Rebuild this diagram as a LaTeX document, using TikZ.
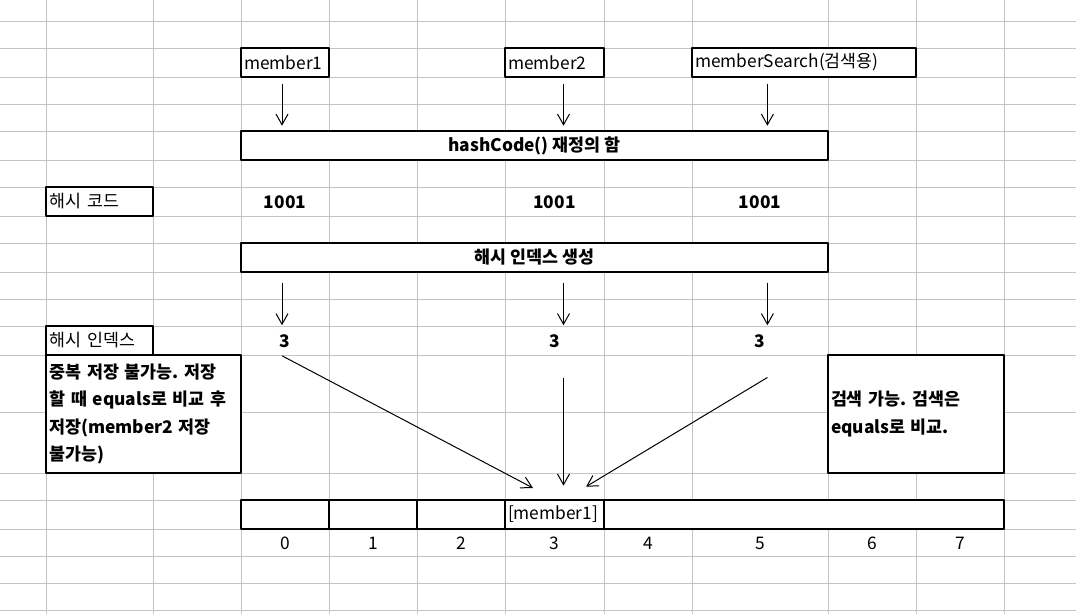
\documentclass[tikz,border=0pt]{standalone}
\usepackage{fontspec}
\setmainfont{Noto Sans CJK KR}
\usetikzlibrary{arrows.meta}
\definecolor{gridgray}{RGB}{196,196,196}
\frenchspacing

\begin{document}
\begin{tikzpicture}[
  x={(0.75pt,0)},
  y={(0,-0.75pt)},
  line join=round,
  txt/.style={font=\fontsize{13}{20.5}\selectfont},
  btxt/.style={font=\bfseries\fontsize{13}{20.5}\selectfont},
  gridline/.style={draw=gridgray,line width=0.75pt},
  box/.style={draw=black,line width=1.5pt,fill=white,minimum height=21.75pt,inner sep=0pt},
  lbox/.style={box,txt,align=left,inner xsep=2.25pt},
  cell/.style={minimum height=21.75pt,inner sep=0pt},
  arr/.style={-{Straight Barb[length=8pt,width=9pt]},line width=0.75pt}
]
  \useasboundingbox (0,0) rectangle (1076,614);

  % Sheet grid.
  \foreach \x in {46.5,153,241,329,417,505,604,692,828,916,1004}
    \draw[gridline] (\x,0) -- (\x,614);
  \foreach \y in {21.3,48.3,77.3,104.3,131,160.3,187.3,216,243.3,272,299,326.3,355,412.3,473.3,500,529,556,583.3,610}
    \draw[gridline] (0,\y) -- (1076,\y);

  % Objects to store.
  \node[lbox,text width=61.5pt] (m1) at (285,62.5) {member1};
  \node[lbox,text width=69.75pt] (m2) at (554.5,62.5) {member2};
  \node[lbox,text width=163.5pt] (ms) at (804,62.5) {memberSearch(검색용)};

  % Steps.
  \node[box,btxt,minimum width=440.25pt] (hash) at (534.5,145.5) {hashCode() 재정의 함};
  \node[box,btxt,minimum width=440.25pt] (idx) at (534.5,257.5) {해시 인덱스 생성};

  % Row labels.
  \node[lbox,text width=75.4pt] (hc) at (99.75,201.5) {해시 코드};
  \node[lbox,text width=75.4pt] (hi) at (99.75,340.5) {해시 인덱스};

  % Hash codes and indexes.
  \foreach \n/\x in {1/285,2/554.5,3/760} {
    \node[cell,btxt] (h\n) at (\x,202.5) {1001};
    \node[cell,btxt] (i\n) at (\x,341) {3};
  }

  % Notes.
  \node[lbox,btxt,text width=141.4pt,minimum height=88.5pt] (dup) at (143.75,414)
    {중복 저장 불가능. 저장\\할 때 equals로 비교 후\\저장(member2 저장\\불가능)};
  \node[lbox,btxt,text width=127.5pt,minimum height=88.5pt] (find) at (916,414)
    {검색 가능. 검색은\\equals로 비교.};

  % Bucket array.
  \foreach \i/\x in {0/285,1/373,2/461}
    \node[box,minimum width=66pt] (c\i) at (\x,514.5) {};
  \node[lbox,text width=69.75pt] (c3) at (554.5,514.5) {[member1]};
  \node[box,minimum width=300pt] (rest) at (804,514.5) {};
  \foreach \i/\x in {0/285,1/373,2/461,3/554.5,4/648,5/760,6/872,7/960}
    \node[cell,txt] (n\i) at (\x,543.5) {\i};

  % Arrow columns and ends.
  \coordinate (a1) at (282,0);
  \coordinate (a2) at (563.5,0);
  \coordinate (a3) at (767.4,0);
  \coordinate (s3) at ([yshift=-16.3pt]i3.south -| a3);
  \coordinate (t1) at (533,488);
  \coordinate (t3) at (586,486.7);

  \draw[arr,shorten <=4.3pt,shorten >=3.2pt] (m1.south -| a1) -- (hash.north -| a1);
  \draw[arr,shorten <=4.3pt,shorten >=3.2pt] (m2.south -| a2) -- (hash.north -| a2);
  \draw[arr,shorten <=4.3pt,shorten >=3.2pt] (ms.south -| a3) -- (hash.north -| a3);
  \draw[arr,shorten <=7.3pt,shorten >=0.75pt] (idx.south -| a1) -- (i1.north -| a1);
  \draw[arr,shorten <=7.3pt,shorten >=0.75pt] (idx.south -| a2) -- (i2.north -| a2);
  \draw[arr,shorten <=7.3pt,shorten >=0.75pt] (idx.south -| a3) -- (i3.north -| a3);

  \draw[arr] (i1.south -| a1) -- (t1);
  \draw[arr,shorten <=16.3pt,shorten >=10pt] (i2.south -| a2) -- (c3.north -| a2);
  \draw[arr] (s3) -- (t3);
\end{tikzpicture}
\end{document}
